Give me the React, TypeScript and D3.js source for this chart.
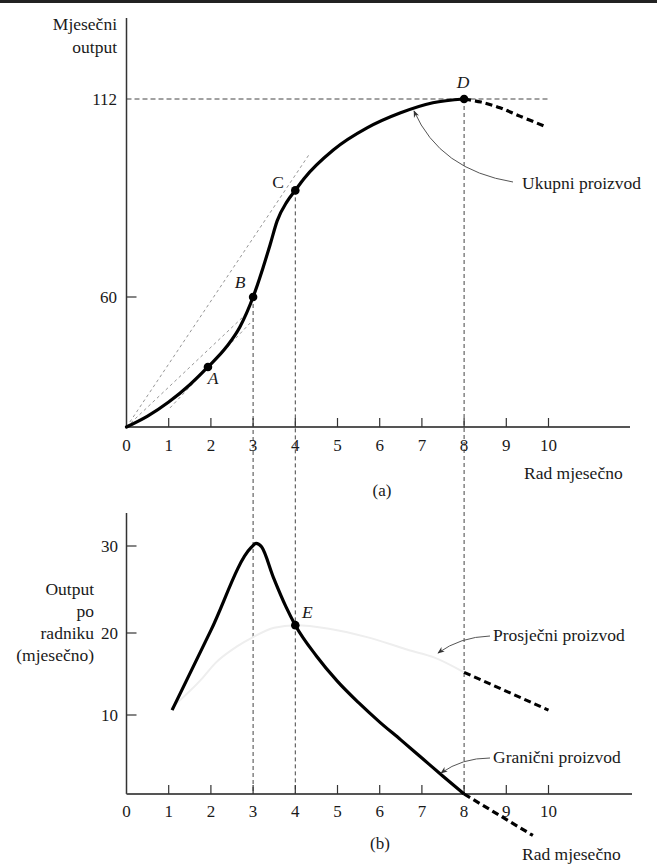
import React from "react";
import * as d3 from "d3";

type P = [number, number];

// ---- Data ----
const xTicks = [1, 2, 3, 4, 5, 6, 7, 8, 9, 10];
const xTickLabels = ["0", "1", "2", "3", "4", "5", "6", "7", "8", "9", "10"];
const topYTicks = [60, 112];
const bottomYTicks = [10, 20, 30];

// Total product (top panel)
const tpSolid: P[] = [
  [0, 0], [0.5, 5], [1, 11.5], [1.5, 19.5], [1.93, 27.7], [2.37, 37], [2.69, 46.3],
  [3, 60], [3.23, 67.5], [3.41, 74], [3.57, 80], [3.8, 85], [4, 88],
  [4.2, 91], [4.9, 98.6], [5.7, 104.4], [6.48, 108.3], [7.26, 111], [8, 112],
];
const tpDashed: P[] = [[8, 112], [8.4, 111.2], [8.85, 109.7], [9.32, 107.5], [9.9, 104.9]];

// Rays / tangent (top panel)
const rayC: P[] = [[0, 0], [4.35, 97.8]];
const rayB: P[] = [[0, 0], [2.88, 53]];
const tangentA: P[] = [[1.03, 8.8], [2.93, 48]];

// Marked points
const topPoints: { label: string; x: number; y: number }[] = [
  { label: "A", x: 1.93, y: 27.7 },
  { label: "B", x: 3, y: 60 },
  { label: "C", x: 4, y: 88 },
  { label: "D", x: 8, y: 112 },
];
const pointE: P = [4, 20.9];

// Marginal product (bottom panel)
const mpSolid: P[] = [
  [1.08, 10.6], [2, 20.3], [2.95, 29.8], [3.07, 30.3], [3.2, 29.9], [3.48, 26.4],
  [3.78, 23], [4, 20.9], [4.5, 17.2], [5, 14.1], [5.5, 11.5], [6, 9.1],
  [6.5, 6.85], [7, 4.55], [7.5, 2.25], [8, 0],
];
const mpDashed: P[] = [[8, 0], [9.63, -5.25]];

// Average product (bottom panel, very faint)
const apSolid: P[] = [
  [1.05, 10.8], [1.8, 14.5], [2.1, 16.3], [2.6, 18.3], [3, 19.5], [3.5, 20.6],
  [4, 20.9], [4.8, 20.5], [5.7, 19.5], [6.7, 17.9], [7.3, 17], [8, 15.2],
];
const apDashed: P[] = [[8, 15.2], [10, 10.6]];

const guideXs = [3, 4, 8];
const guideTopValues = [60, 88, 112];

// ---- Scales ----
const W = 657, H = 864;
const x = d3.scaleLinear().domain([0, 10]).range([126.5, 548.5]);
const yTop = d3.scaleLinear().domain([0, 60, 112]).range([427, 297, 99]);
const yBot = d3.scaleLinear().domain([0, 10, 20, 30]).range([794, 715, 633, 546]);

const FONT = "'Liberation Serif', 'Times New Roman', serif";
const INK = "#1a1a1a";

const smoothTop = d3.line<P>().x(d => x(d[0])).y(d => yTop(d[1])).curve(d3.curveMonotoneX);
const smoothBot = d3.line<P>().x(d => x(d[0])).y(d => yBot(d[1])).curve(d3.curveMonotoneX);
const catTop = d3.line<P>().x(d => x(d[0])).y(d => yTop(d[1])).curve(d3.curveCatmullRom.alpha(0.5));
const straightTop = d3.line<P>().x(d => x(d[0])).y(d => yTop(d[1]));
const straightBot = d3.line<P>().x(d => x(d[0])).y(d => yBot(d[1]));

const LBL = 17.5;
const TCK = 17;

export default function App() {
  const axisX0 = x(0);
  return (
    <svg width={W} height={H} viewBox={`0 0 ${W} ${H}`}
      style={{ position: "absolute", left: 0, top: 0, background: "#fff" }}
      fontFamily={FONT}>
      <defs>
        <marker id="arr" viewBox="0 0 10 10" refX="9" refY="5" markerWidth="7" markerHeight="7" orient="auto">
          <path d="M0,1 L10,5 L0,9 L3,5 Z" fill="#333" />
        </marker>
      </defs>
      <rect x={0} y={0} width={W} height={3} fill="#222" />

      {/* ===== TOP PANEL ===== */}
      <path d={straightTop([[0, 112], [10.04, 112]])!} stroke="#444" strokeWidth={1} strokeDasharray="5,3" fill="none" />
      {guideXs.map((gx, i) => (
        <line key={i} x1={x(gx)} x2={x(gx)} y1={yTop(guideTopValues[i])} y2={yBot(0)}
          stroke="#444" strokeWidth={1} strokeDasharray="4,3" />
      ))}
      {[rayC, rayB, tangentA].map((r, i) => (
        <path key={i} d={straightTop(r)!} stroke="#8a8a8a" strokeWidth={0.9} strokeDasharray="3,3" fill="none" />
      ))}

      <line x1={axisX0} x2={axisX0} y1={18} y2={yTop(0)} stroke="#333" strokeWidth={1.5} />
      <line x1={axisX0} x2={630} y1={yTop(0)} y2={yTop(0)} stroke="#555" strokeWidth={2} />
      {xTicks.map(t => (
        <line key={t} x1={x(t)} x2={x(t)} y1={yTop(0)} y2={yTop(0) - 9} stroke="#333" strokeWidth={1.2} />
      ))}
      <line x1={axisX0} x2={axisX0 + 10} y1={yTop(60)} y2={yTop(60)} stroke="#333" strokeWidth={1.2} />
      {[0, ...xTicks].map((t, i) => (
        <text key={t} x={x(t)} y={451} textAnchor="middle" fontSize={TCK} fill={INK}>{xTickLabels[i]}</text>
      ))}
      {topYTicks.map(t => (
        <text key={t} x={117} y={yTop(t) + 5.5} textAnchor="end" fontSize={TCK} fill={INK}>{t}</text>
      ))}
      <text x={117} y={30} textAnchor="end" fontSize={LBL} fill={INK}>Mjesečni</text>
      <text x={117} y={53} textAnchor="end" fontSize={LBL} fill={INK}>output</text>
      <text x={524} y={479} fontSize={LBL} fill={INK}>Rad mjesečno</text>
      <text x={382} y={496} textAnchor="middle" fontSize={TCK} fill={INK}>(a)</text>

      <path d={smoothTop(tpSolid)!} stroke="#000" strokeWidth={3.2} fill="none" strokeLinecap="round" />
      <path d={catTop(tpDashed)!} stroke="#000" strokeWidth={3.2} fill="none" strokeDasharray="7,4" />
      {topPoints.map(p => (
        <circle key={p.label} cx={x(p.x)} cy={yTop(p.y)} r={4.3} fill="#000" />
      ))}
      <text x={213} y={384} textAnchor="middle" fontSize={LBL} fontStyle="italic" fill={INK}>A</text>
      <text x={240} y={288} textAnchor="middle" fontSize={LBL} fontStyle="italic" fill={INK}>B</text>
      <text x={278} y={188} textAnchor="middle" fontSize={LBL} fill={INK}>C</text>
      <text x={463} y={88} textAnchor="middle" fontSize={LBL} fontStyle="italic" fill={INK}>D</text>

      <path d="M513,182 Q440,170 414,111" stroke="#555" strokeWidth={1} fill="none" markerEnd="url(#arr)" />
      <text x={522} y={189} fontSize={LBL} fill={INK}>Ukupni proizvod</text>

      {/* ===== BOTTOM PANEL ===== */}
      <line x1={axisX0} x2={axisX0} y1={513} y2={yBot(0)} stroke="#333" strokeWidth={1.5} />
      <line x1={axisX0} x2={632} y1={yBot(0)} y2={yBot(0)} stroke="#555" strokeWidth={2} />
      {xTicks.map(t => (
        <line key={t} x1={x(t)} x2={x(t)} y1={yBot(0)} y2={yBot(0) - 9} stroke="#333" strokeWidth={1.2} />
      ))}
      {bottomYTicks.map(t => (
        <line key={t} x1={axisX0} x2={axisX0 + 10} y1={yBot(t)} y2={yBot(t)} stroke="#333" strokeWidth={1.2} />
      ))}
      {[0, ...xTicks].map((t, i) => (
        <text key={t} x={x(t)} y={817} textAnchor="middle" fontSize={TCK} fill={INK}>{xTickLabels[i]}</text>
      ))}
      {bottomYTicks.map(t => (
        <text key={t} x={118} y={yBot(t) + 5.5} textAnchor="end" fontSize={TCK} fill={INK}>{t}</text>
      ))}
      {["Output", "po", "radniku", "(mjesečno)"].map((s, i) => (
        <text key={s} x={94} y={595 + i * 22} textAnchor="end" fontSize={LBL} fill={INK}>{s}</text>
      ))}

      <path d={smoothBot(apSolid)!} stroke="#eeeeee" strokeWidth={2} fill="none" />
      <path d={straightBot(apDashed)!} stroke="#000" strokeWidth={3} fill="none" strokeDasharray="7,4" />

      <path d={smoothBot(mpSolid)!} stroke="#000" strokeWidth={3.2} fill="none" />
      <path d={straightBot(mpDashed)!} stroke="#000" strokeWidth={3.2} fill="none" strokeDasharray="7,4" />
      <circle cx={x(pointE[0])} cy={yBot(pointE[1])} r={4.3} fill="#000" />
      <text x={302} y={618} fontSize={LBL} fontStyle="italic" fill={INK}>E</text>

      <path d="M490,636 Q460,637 438,653" stroke="#555" strokeWidth={1} fill="none" markerEnd="url(#arr)" />
      <text x={493} y={641} fontSize={LBL} fill={INK}>Prosječni proizvod</text>
      <path d="M490,758 Q462,758 441,773" stroke="#555" strokeWidth={1} fill="none" markerEnd="url(#arr)" />
      <text x={493} y={763} fontSize={LBL} fill={INK}>Granični proizvod</text>

      <text x={380} y={849} textAnchor="middle" fontSize={TCK} fill={INK}>(b)</text>
      <text x={522} y={860} fontSize={LBL} fill={INK}>Rad mjesečno</text>
    </svg>
  );
}
